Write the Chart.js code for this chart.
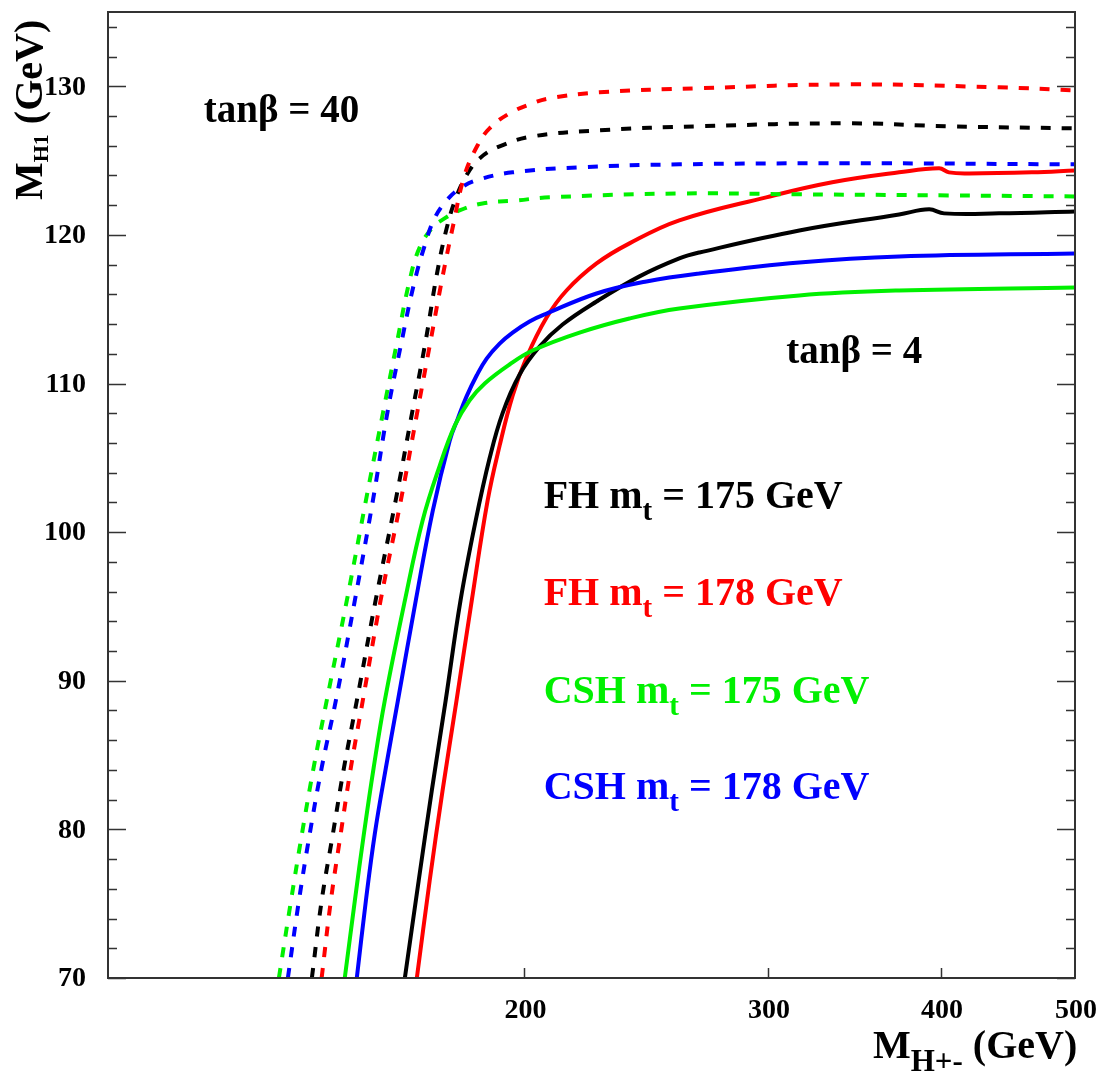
<!DOCTYPE html>
<html>
<head>
    <meta charset="UTF-8">
    <title>M_H1 vs M_H+-</title>
    <script src="https://cdn.jsdelivr.net/npm/chart.js@4.4.0/dist/chart.umd.min.js"></script>
    <style>
        body { margin: 0; background: #fff; }
        #wrap { width: 1097px; height: 1074px; }
    </style>
</head>
<body>
<div id="wrap"><canvas id="myChart"></canvas></div>

<script>
    // M_H+- (GeV) / M_H1 (GeV) for each curve
    // tanb = 40 (dashed)
    let fh175_40_x = [140.4, 142.7, 145.4, 148.1, 151.3, 156.1, 161.4, 166.0, 169.7, 172.8, 175.7, 178.4, 181.6, 185.6, 191.9, 202.7, 226.6, 267.6, 343.4, 405.4, 500];
    let fh175_40_y = [70.0, 75.19, 79.7, 84.14, 88.65, 95.39, 102.12, 108.18, 112.9, 117.27, 120.44, 122.46, 124.01, 125.15, 125.96, 126.63, 127.04, 127.31, 127.51, 127.31, 127.17];

    let fh178_40_x = [142.7, 144.9, 147.3, 149.8, 152.8, 157.4, 162.8, 167.4, 171.1, 174.3, 177.8, 181.0, 185.0, 188.7, 195.1, 202.7, 208.5, 226.6, 267.6, 343.4, 440.6, 500];
    let fh178_40_y = [70.0, 75.19, 79.7, 84.14, 88.65, 95.39, 102.12, 108.18, 112.9, 116.94, 120.84, 124.01, 126.03, 127.17, 128.18, 128.86, 129.19, 129.6, 129.87, 130.13, 129.93, 129.73];

    let csh175_40_x = [132.9, 135.6, 138.1, 140.8, 143.9, 148.8, 153.8, 158.0, 161.7, 165.2, 168.0, 171.7, 175.1, 179.5, 186.5, 197.4, 208.5, 258.8, 316.0, 405.4, 500];
    let csh175_40_y = [70.0, 75.19, 79.7, 84.14, 88.65, 95.39, 102.39, 107.98, 112.69, 116.94, 119.16, 120.51, 121.11, 121.65, 122.12, 122.32, 122.53, 122.79, 122.73, 122.66, 122.59];

    let csh178_40_x = [134.9, 137.4, 139.9, 142.7, 146.1, 150.8, 155.4, 159.3, 162.8, 166.3, 169.4, 172.2, 175.7, 180.1, 185.6, 196.1, 219.2, 258.8, 343.4, 500];
    let csh178_40_y = [70.0, 75.19, 79.7, 84.14, 88.65, 95.39, 102.12, 108.18, 112.56, 116.6, 119.29, 121.11, 122.32, 123.2, 123.74, 124.21, 124.55, 124.75, 124.82, 124.75];

    // tanb = 4 (solid)
    let fh175_4_x = [163.9, 167.7, 171.4, 175.4, 179.8, 184.4, 188.7, 192.8, 198.4, 205.1, 213.1, 225.5, 242.2, 258.8, 267.6, 316.0, 373.1, 392.2, 402.1, 440.6, 500];
    let fh175_4_y = [70.0, 76.53, 82.59, 88.65, 95.39, 100.77, 104.95, 107.98, 110.61, 112.49, 113.97, 115.52, 117.21, 118.42, 118.82, 120.3, 121.38, 121.72, 121.45, 121.45, 121.58];

    let fh178_4_x = [167.2, 170.8, 174.5, 178.6, 183.2, 188.1, 191.9, 196.1, 200.7, 207.5, 214.5, 225.5, 238.2, 258.8, 299.1, 333.8, 373.1, 398.8, 405.4, 419.2, 465.4, 500];
    let fh178_4_y = [70.0, 76.53, 82.59, 88.65, 95.39, 102.12, 105.82, 109.19, 111.75, 114.44, 116.26, 118.08, 119.43, 120.98, 122.53, 123.54, 124.21, 124.48, 124.21, 124.14, 124.21, 124.34];

    let csh175_4_x = [148.3, 150.8, 153.1, 155.6, 158.5, 163.9, 168.8, 173.7, 178.1, 182.5, 187.2, 195.1, 202.7, 219.2, 238.2, 258.8, 316.0, 373.1, 500];
    let csh175_4_y = [70.0, 75.19, 79.7, 84.14, 88.65, 95.39, 100.77, 104.48, 107.17, 108.86, 110.0, 111.28, 112.22, 113.43, 114.38, 115.05, 115.93, 116.26, 116.46];

    let csh178_4_x = [151.3, 153.6, 155.9, 158.8, 162.0, 166.9, 171.7, 176.6, 179.0, 181.6, 184.7, 187.8, 191.9, 196.1, 201.7, 207.5, 225.5, 245.0, 267.6, 316.0, 373.1, 500];
    let csh178_4_y = [70.0, 75.19, 79.7, 84.14, 88.65, 95.39, 101.45, 106.16, 107.64, 109.12, 110.54, 111.68, 112.69, 113.43, 114.18, 114.71, 116.06, 116.87, 117.41, 118.15, 118.55, 118.75];

    // axis ticks
    let xTicks = [200, 300, 400, 500];
    let yTicks = [70, 80, 90, 100, 110, 120, 130];

    let serif = '"Liberation Serif", "DejaVu Serif", serif';
    let GREEN = '#00f000';

    function pts(xs, ys) {
        return xs.map(function (x, i) { return { x: x, y: ys[i] }; });
    }

    function curve(label, xs, ys, color, dashed) {
        return {
            label: label,
            data: pts(xs, ys),
            borderColor: color,
            borderWidth: 4,
            borderDash: dashed ? [10, 11] : [],
            borderCapStyle: 'butt',
            pointRadius: 0,
            fill: false,
            tension: 0.4
        };
    }

    // text with subscripts: parts = [{t, size, dy}]
    function richText(ctx, parts, x, y, color) {
        ctx.fillStyle = color;
        ctx.textBaseline = 'alphabetic';
        ctx.textAlign = 'left';
        parts.forEach(function (p) {
            ctx.font = 'bold ' + p.size + 'px ' + serif;
            ctx.fillText(p.t, x, y + (p.dy || 0));
            x += ctx.measureText(p.t).width;
        });
    }

    function mtLabel(name, mt) {
        return [
            { t: name + ' m', size: 40 },
            { t: 't', size: 29, dy: 12 },
            { t: ' = ' + mt + ' GeV', size: 40 }
        ];
    }

    var frame = {
        id: 'frame',
        afterDatasetsDraw: function (chart) {
            var ctx = chart.ctx;
            var a = chart.chartArea;
            var xs = chart.scales.x, ys = chart.scales.y;
            ctx.save();

            // box
            ctx.strokeStyle = '#333';
            ctx.lineWidth = 2;
            ctx.strokeRect(a.left, a.top, a.right - a.left, a.bottom - a.top);

            // y ticks, both sides, pointing in
            ctx.lineWidth = 1.5;
            for (var v = 70; v <= 135; v += 2) {
                var py = Math.round(ys.getPixelForValue(v)) + 0.5;
                var len = (v % 10 === 0) ? 18 : 9;
                ctx.beginPath();
                ctx.moveTo(a.left, py); ctx.lineTo(a.left + len, py);
                ctx.moveTo(a.right, py); ctx.lineTo(a.right - len, py);
                ctx.stroke();
            }
            // x ticks
            xTicks.forEach(function (v) {
                if (v >= 500) return;
                var px = Math.round(xs.getPixelForValue(v)) + 0.5;
                ctx.beginPath();
                ctx.moveTo(px, a.bottom); ctx.lineTo(px, a.bottom - 10);
                ctx.stroke();
            });

            // tick labels
            ctx.fillStyle = '#000';
            ctx.font = 'bold 28px ' + serif;
            ctx.textAlign = 'right';
            ctx.textBaseline = 'middle';
            yTicks.forEach(function (v) {
                ctx.fillText(String(v), a.left - 22, ys.getPixelForValue(v) + 1);
            });
            ctx.textAlign = 'center';
            xTicks.forEach(function (v) {
                ctx.fillText(String(v), xs.getPixelForValue(v) + 1, a.bottom + 33);
            });

            // x axis title
            richText(ctx, [
                { t: 'M', size: 40 },
                { t: 'H+-', size: 31, dy: 13 },
                { t: ' (GeV)', size: 40 }
            ], 873, 1058, '#000');

            // y axis title (rotated)
            ctx.save();
            ctx.translate(42, 200);
            ctx.rotate(-Math.PI / 2);
            richText(ctx, [
                { t: 'M', size: 40 },
                { t: 'H1', size: 22, dy: 6 },
                { t: ' (GeV)', size: 40 }
            ], 0, 0, '#000');
            ctx.restore();

            // annotations, placed in data units
            richText(ctx, [{ t: 'tanβ = 40', size: 39 }],
                xs.getPixelForValue(117.3), ys.getPixelForValue(127.6), '#000');
            richText(ctx, [{ t: 'tanβ = 4', size: 39 }],
                xs.getPixelForValue(309.2), ys.getPixelForValue(111.35), '#000');

            var lx = xs.getPixelForValue(206.5);
            richText(ctx, mtLabel('FH', 175), lx, ys.getPixelForValue(101.65), '#000000');
            richText(ctx, mtLabel('FH', 178), lx, ys.getPixelForValue(95.1), '#ff0000');
            richText(ctx, mtLabel('CSH', 175), lx, ys.getPixelForValue(88.5), GREEN);
            richText(ctx, mtLabel('CSH', 178), lx, ys.getPixelForValue(82.05), '#0000ff');

            ctx.restore();
        }
    };

    var ctx = document.getElementById('myChart').getContext('2d');
    var myChart = new Chart(ctx, {
        type: 'line',
        data: {
            datasets: [
                curve('FH 178, tanb=40', fh178_40_x, fh178_40_y, '#ff0000', true),
                curve('FH 175, tanb=40', fh175_40_x, fh175_40_y, '#000000', true),
                curve('CSH 178, tanb=40', csh178_40_x, csh178_40_y, '#0000ff', true),
                curve('CSH 175, tanb=40', csh175_40_x, csh175_40_y, GREEN, true),
                curve('CSH 175, tanb=4', csh175_4_x, csh175_4_y, GREEN, false),
                curve('CSH 178, tanb=4', csh178_4_x, csh178_4_y, '#0000ff', false),
                curve('FH 175, tanb=4', fh175_4_x, fh175_4_y, '#000000', false),
                curve('FH 178, tanb=4', fh178_4_x, fh178_4_y, '#ff0000', false)
            ]
        },
        options: {
            responsive: true,
            maintainAspectRatio: false,
            animation: false,
            layout: { padding: { left: 108, right: 22, top: 12, bottom: 96 } },
            plugins: {
                legend: { display: false },
                tooltip: { enabled: false }
            },
            scales: {
                x: { type: 'logarithmic', min: 100, max: 500, display: false },
                y: { type: 'linear', min: 70, max: 135, display: false }
            }
        },
        plugins: [frame]
    });
</script>
</body>
</html>
